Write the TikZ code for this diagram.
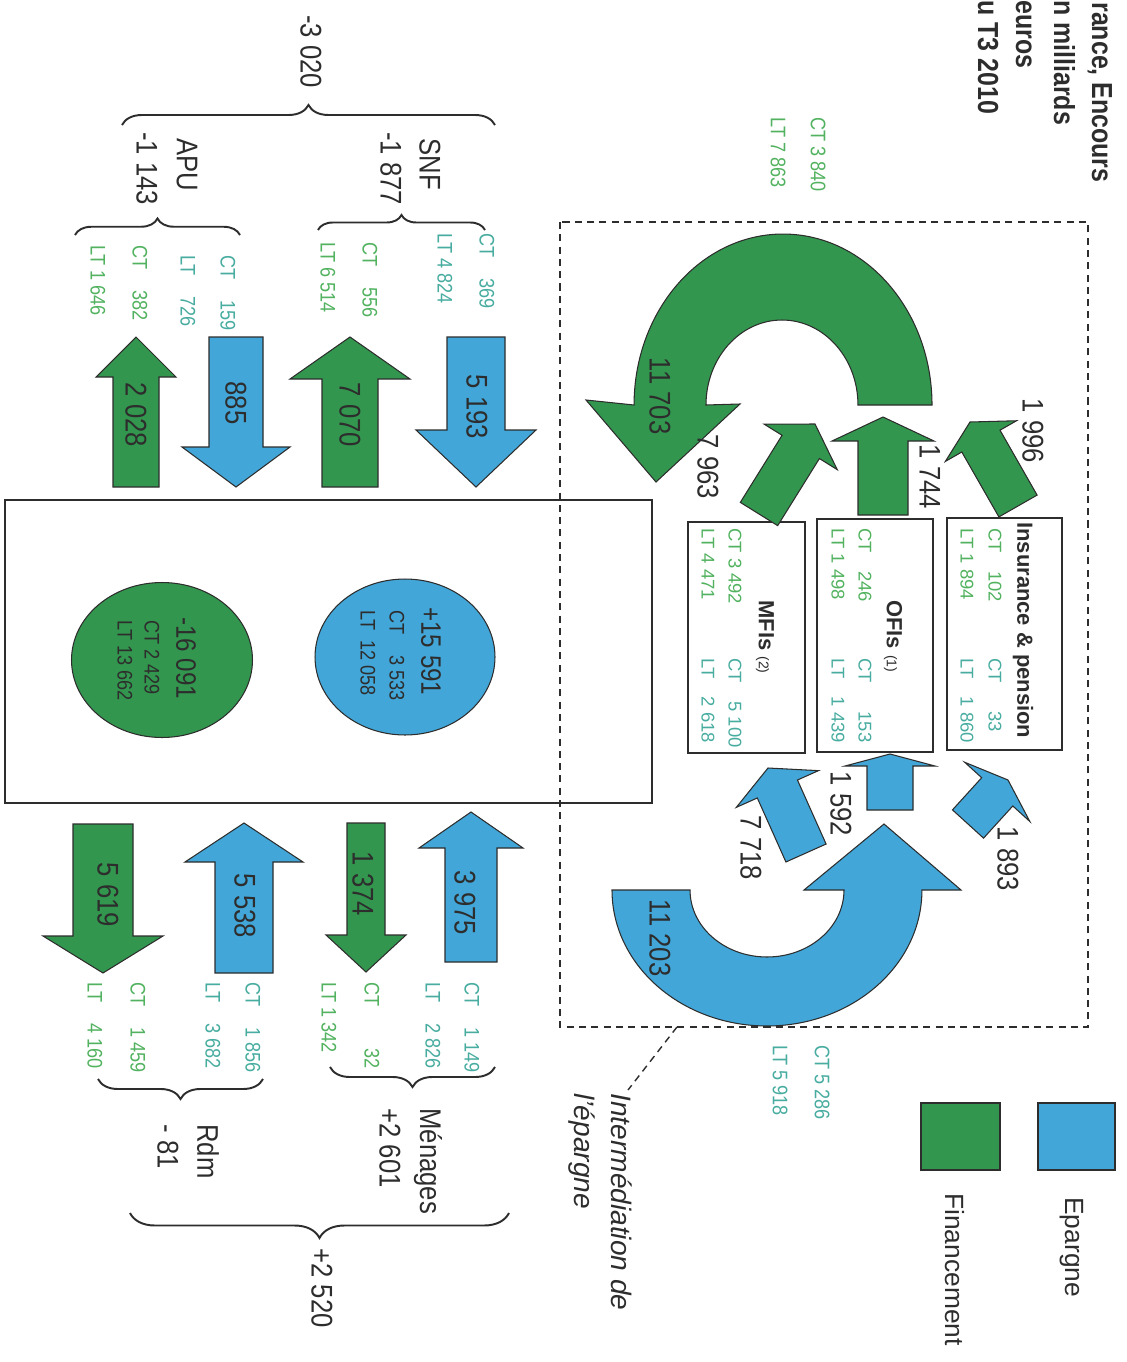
\documentclass[tikz,border=0pt]{standalone}
\usepackage{fontspec}
\setmainfont{Liberation Sans}
\newfontfamily\narrowsans{Liberation Sans}[FakeStretch=0.86]
\usetikzlibrary{calc,shapes.geometric,decorations.pathreplacing}

\definecolor{finGreen}{RGB}{50,150,78}
\definecolor{epBlue}{RGB}{66,166,216}
\definecolor{stockGreen}{RGB}{82,178,96}
\definecolor{stockTeal}{RGB}{72,172,160}
\definecolor{inkGray}{RGB}{45,45,45}

% block arrow: style, tail, tip, shaft half width, head half width, head length (in px)
\newcommand{\blockarrow}[6]{%
  \coordinate (ba-base) at ($(#3)!#6*0.02cm!(#2)$);
  \filldraw[#1] ($(#2)!#4*0.02cm!90:(#3)$)
    -- ($(ba-base)!#4*0.02cm!90:(#3)$)
    -- ($(ba-base)!#5*0.02cm!90:(#3)$)
    -- (#3)
    -- ($(ba-base)!#5*0.02cm!-90:(#3)$)
    -- ($(ba-base)!#4*0.02cm!-90:(#3)$)
    -- ($(#2)!#4*0.02cm!-90:(#3)$) -- cycle;}

\tikzset{
  rt/.style={rotate=-90, inner sep=0pt, text=inkGray},
  lbl/.style={rt, anchor=west, font=\narrowsans\fontsize{17}{20}\selectfont},
  num/.style={rt, font=\narrowsans\fontsize{17}{20}\selectfont},
  ttl/.style={rt, anchor=base west, font=\narrowsans\bfseries\fontsize{16.5}{18}\selectfont},
  stkfin/.style={rt, anchor=west, text=stockGreen, font=\narrowsans\fontsize{12}{14}\selectfont},
  stkep/.style={stkfin, text=stockTeal},
  boxfin/.style={rt, anchor=west, text=stockGreen, font=\fontsize{10.5}{12}\selectfont},
  boxep/.style={boxfin, text=stockTeal},
  boxname/.style={rt, anchor=west, font=\bfseries\fontsize{12.5}{14}\selectfont},
  fin/.style={fill=finGreen, draw=inkGray, line width=0.6pt},
  ep/.style={fill=epBlue, draw=inkGray, line width=0.6pt},
  ibox/.style={draw=inkGray, line width=1pt, inner sep=0pt},
  frm/.style={draw=inkGray, line width=0.8pt, dash pattern=on 4pt off 3pt},
  brc/.style={decorate, decoration={brace, amplitude=#1}, draw=inkGray, line width=1.1pt},
  brc/.default=0.3cm
}

\begin{document}
\begin{tikzpicture}[x=0.02cm, y=-0.02cm]
\useasboundingbox (0,0) rectangle (1126,1362);

% title (cut at the page edge)
\node[ttl] (t1) at (1092,2) {rance, Encours};
\node[ttl] (t2) at (1054,0) {n milliards};
\node[ttl] (t3) at (1016,0) {euros};
\node[ttl] (t4) at (978,0) {u T3 2010};

% intermediation frame
\draw[frm] (560,222) rectangle (1088,1027);
\coordinate (leadA) at (677,1027);
\coordinate (leadB) at (628,1090);
\draw[frm] (leadA) -- (leadB);

% market box and balances
\node[draw=inkGray, line width=1.4pt, minimum width=12.94cm, minimum height=6.06cm, inner sep=0pt] (mkt) at (328.5,651.5) {};
\node[ellipse, ep, minimum width=3.6cm, minimum height=3.12cm] (savings) at (405,657) {};
\node[ellipse, fin, minimum width=3.62cm, minimum height=3.1cm] (funding) at (162,660) {};
\node[rt, anchor=west, font=\narrowsans\fontsize{16}{18}\selectfont] (sv1) at (431,607) {+15 591};
\node[rt, anchor=west, font=\narrowsans\fontsize{12}{14}\selectfont] (sv2) at (397,610) {CT\quad 3 533};
\node[rt, anchor=west, font=\narrowsans\fontsize{12}{14}\selectfont] (sv3) at (368,610) {LT\ \ 12 058};
\node[rt, anchor=west, font=\narrowsans\fontsize{16}{18}\selectfont] (fd1) at (186,617) {-16 091};
\node[rt, anchor=west, font=\narrowsans\fontsize{12}{14}\selectfont] (fd2) at (152,620) {CT 2 429};
\node[rt, anchor=west, font=\narrowsans\fontsize{12}{14}\selectfont] (fd3) at (125,620) {LT 13 662};

% institutions
\node[ibox, minimum width=2.34cm, minimum height=4.62cm] (mfi) at (746.5,637.5) {};
\node[ibox, minimum width=2.32cm, minimum height=4.66cm] (ofi) at (875,635.5) {};
\node[ibox, minimum width=2.3cm, minimum height=4.64cm] (ins) at (1004.5,634) {};
\node[boxfin] at (735,528) {CT 3 492};
\node[boxfin] at (708,528) {LT 4 471};
\node[boxname] at (765,600) {MFIs {\normalfont\fontsize{8}{9}\selectfont (2)}};
\node[boxep] at (735,658) {CT\quad 5 100};
\node[boxep] at (708,658) {LT\quad 2 618};
\node[boxfin] at (865,528) {CT\quad 246};
\node[boxfin] at (838,528) {LT 1 498};
\node[boxname] at (893,600) {OFIs {\normalfont\fontsize{8}{9}\selectfont (1)}};
\node[boxep] at (865,658) {CT\quad\ \ 153};
\node[boxep] at (838,658) {LT\quad 1 439};
\node[boxname] at (1023,522) {Insurance \& pension};
\node[boxfin] at (995,528) {CT\quad 102};
\node[boxfin] at (967,528) {LT 1 894};
\node[boxep] at (995,658) {CT\quad\ \ 33};
\node[boxep] at (967,658) {LT\quad 1 860};

% curved flows
\filldraw[fin] (932,405) arc[start angle=0, end angle=180, x radius=2.98cm, y radius=3.42cm]
  -- (586,400) -- (656,482) -- (740,404) -- (706,405)
  arc[start angle=180, end angle=0, x radius=1.52cm, y radius=1.7cm] -- cycle;
\filldraw[ep] (612,890) arc[start angle=180, end angle=360, x radius=3.1cm, y radius=2.72cm]
  -- (961,890) -- (884,824) -- (804,890) -- (844,890)
  arc[start angle=0, end angle=-180, x radius=1.54cm, y radius=1.34cm] -- cycle;

% small flows to/from institutions
\blockarrow{fin}{759,514}{815,424}{22}{43}{27}
\blockarrow{fin}{883,515}{883,417}{25}{51}{24}
\blockarrow{fin}{1018,506}{970,422}{22}{41}{22}
\blockarrow{ep}{806,853}{768,768}{22}{45}{23}
\blockarrow{ep}{890,810}{890,754}{23}{45}{12}
\blockarrow{ep}{968,824}{1008,780}{21}{44}{16}

\node[num] (n11703) at (660,396) {11 703};
\node[num] (n7963) at (708,467) {7 963};
\node[num] (n1744) at (930,477) {1 744};
\node[num] (n1996) at (1033,431) {1 996};
\node[num] (n11203) at (660,938) {11 203};
\node[num] (n7718) at (751,848) {7 718};
\node[num] (n1592) at (841,804) {1 592};
\node[num] (n1893) at (1008,859) {1 893};

\node[stkfin] at (818,117) {CT 3 840};
\node[stkfin] at (778,117) {LT 7 863};
\node[stkep] at (822,1045) {CT 5 286};
\node[stkep] at (780,1045) {LT 5 918};

% sector flows, top
\blockarrow{ep}{476,337}{476,487}{29}{60}{57}
\blockarrow{fin}{350,487}{350,337}{28}{60}{42}
\blockarrow{ep}{236,337}{236,487}{27}{54}{40}
\blockarrow{fin}{136,487}{136,337}{23}{40}{40}
\node[num] (n5193) at (477,407) {5 193};
\node[num] (n7070) at (350,415) {7 070};
\node[num] (n885) at (236,403) {885};
\node[num] (n2028) at (136,415) {2 028};

% sector flows, bottom
\blockarrow{ep}{471,962}{471,812}{26}{52}{36}
\blockarrow{fin}{366,823}{366,972}{19}{40}{37}
\blockarrow{ep}{244,973}{244,823}{29}{59}{39}
\blockarrow{fin}{103,824}{103,973}{30}{60}{37}
\node[num] (n3975) at (465,903) {3 975};
\node[num] (n1374) at (363,884) {1 374};
\node[num] (n5538) at (245,906) {5 538};
\node[num] (n5619) at (108,895) {5 619};

% stocks, top
\node[stkep] at (487,233) {CT\quad 369};
\node[stkep] at (445,233) {LT 4 824};
\node[stkfin] at (370,242) {CT\quad 556};
\node[stkfin] at (328,242) {LT 6 514};
\node[stkep] at (228,255) {CT\quad 159};
\node[stkep] at (188,255) {LT\quad 726};
\node[stkfin] at (140,245) {CT\quad 382};
\node[stkfin] at (98,245) {LT 1 646};

% stocks, bottom
\node[stkep] at (472,982) {CT\quad 1 149};
\node[stkep] at (433,982) {LT\quad 2 826};
\node[stkfin] at (372,982) {CT\qquad 32};
\node[stkfin] at (329,982) {LT 1 342};
\node[stkep] at (253,982) {CT\quad 1 856};
\node[stkep] at (213,982) {LT\quad 3 682};
\node[stkfin] at (138,982) {CT\quad 1 459};
\node[stkfin] at (95,982) {LT\quad 4 160};

% sectors, top
\draw[brc=0.4cm] (122,125) -- (495,125);
\draw[brc] (318,230) -- (485,230);
\draw[brc=0.33cm] (75,235) -- (240,235);
\node[lbl] (tot1) at (311,15) {-3 020};
\node[lbl] (snf) at (430,138) {SNF};
\node[lbl] (snfv) at (391,132) {-1 877};
\node[lbl] (apu) at (187,138) {APU};
\node[lbl] (apuv) at (147,132) {-1 143};

% sectors, bottom
\draw[brc=0.4cm] (495,1067) -- (330,1067);
\draw[brc=0.4cm] (263,1079) -- (98,1079);
\draw[brc=0.5cm] (509,1213) -- (130,1213);
\node[lbl] (men) at (428,1108) {Ménages};
\node[lbl] (menv) at (390,1108) {+2 601};
\node[lbl] (rdm) at (208,1124) {Rdm};
\node[lbl] (rdmv) at (168,1124) {- 81};
\node[lbl] (tot2) at (322,1248) {+2 520};

% intermediation caption
\node[rt, anchor=west, font=\itshape\fontsize{16}{18}\selectfont] (cap1) at (622,1093) {Intermédiation de};
\node[rt, anchor=west, font=\itshape\fontsize{16}{18}\selectfont] (cap2) at (582,1093) {l’épargne};

% legend
\node[ep, minimum width=1.54cm, minimum height=1.34cm, inner sep=0pt] (lgep) at (1076.5,1136.5) {};
\node[fin, minimum width=1.58cm, minimum height=1.34cm, inner sep=0pt] (lgfin) at (960.5,1136.5) {};
\node[rt, anchor=west, font=\fontsize{15}{17}\selectfont] at (1072,1197) {Epargne};
\node[rt, anchor=west, font=\fontsize{15}{17}\selectfont] at (955,1193) {Financement};
\end{tikzpicture}
\end{document}
